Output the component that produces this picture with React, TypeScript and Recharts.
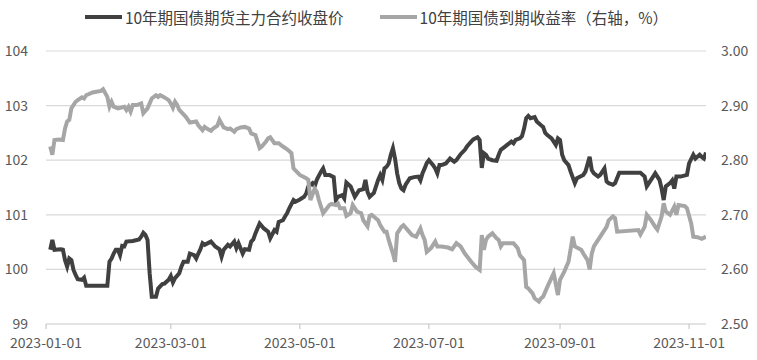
import { LineChart, Line, XAxis, YAxis, CartesianGrid, Legend } from 'recharts'

const YEAR = 2023
const PRICE_NAME = '10年期国债期货主力合约收盘价'
const YIELD_NAME = '10年期国债到期收益率（右轴，%）'
const LEGEND_ORDER = [PRICE_NAME, YIELD_NAME]

// 10y T-bond futures, main contract close (left axis)
const priceDates = [
  '01-03', '01-04', '01-05', '01-08', '01-09', '01-10', '01-11', '01-12', '01-13', '01-14', '01-15', '01-16', '01-18', '01-19', '01-20', '01-30', '01-31',
  '02-01', '02-02', '02-03', '02-04', '02-05', '02-06', '02-07', '02-08', '02-11', '02-14', '02-15', '02-16', '02-17', '02-18', '02-19', '02-20', '02-22', '02-23', '02-25', '02-26', '02-28',
  '03-01', '03-02', '03-03', '03-05', '03-06', '03-07', '03-09', '03-10', '03-12', '03-13', '03-14', '03-15', '03-16', '03-17', '03-19', '03-20', '03-22', '03-24', '03-25', '03-26', '03-28', '03-29', '03-31',
  '04-01', '04-02', '04-04', '04-05', '04-07', '04-08', '04-09', '04-10', '04-12', '04-14', '04-16', '04-17', '04-19', '04-20', '04-21', '04-23', '04-24', '04-25', '04-26', '04-28', '04-29',
  '05-01', '05-03', '05-04', '05-05', '05-07', '05-08', '05-09', '05-11', '05-12', '05-13', '05-15', '05-17', '05-18', '05-19', '05-21', '05-22', '05-23', '05-25', '05-27', '05-28', '05-29', '05-31',
  '06-01', '06-02', '06-03', '06-05', '06-07', '06-08', '06-09', '06-10', '06-11', '06-12', '06-13', '06-14', '06-15', '06-16', '06-17', '06-18', '06-19', '06-20', '06-22', '06-24', '06-26', '06-27', '06-28', '06-29', '06-30',
  '07-01', '07-03', '07-04', '07-05', '07-06', '07-07', '07-09', '07-11', '07-13', '07-14', '07-16', '07-18', '07-19', '07-21', '07-22', '07-24', '07-25', '07-26', '07-27', '07-28', '07-29', '07-31',
  '08-02', '08-03', '08-04', '08-06', '08-07', '08-09', '08-10', '08-11', '08-13', '08-14', '08-15', '08-16', '08-17', '08-18', '08-20', '08-21', '08-23', '08-24', '08-25', '08-26', '08-28', '08-30', '08-31',
  '09-01', '09-02', '09-03', '09-05', '09-06', '09-08', '09-09', '09-12', '09-13', '09-15', '09-16', '09-17', '09-19', '09-20', '09-22', '09-23', '09-24', '09-26', '09-27', '09-29',
  '10-09', '10-11', '10-12', '10-13', '10-15', '10-16', '10-18', '10-19', '10-20', '10-21', '10-23', '10-24', '10-25', '10-26', '10-28', '10-31',
  '11-01', '11-03', '11-04', '11-06', '11-07', '11-08', '11-09',
]
const priceValues = [
  100.36, 100.54, 100.36, 100.37, 100.36, 100.17, 100.05, 100.2, 100.17, 99.99, 99.9, 99.82, 99.81, 99.85, 99.7, 99.7, 100.14,
  100.2, 100.29, 100.36, 100.36, 100.26, 100.43, 100.42, 100.51, 100.52, 100.55, 100.6, 100.67, 100.63, 100.54, 99.93, 99.5, 99.5, 99.65, 99.73, 99.74, 99.81,
  99.88, 99.76, 99.84, 99.93, 100.05, 100.14, 100.14, 100.29, 100.26, 100.2, 100.29, 100.37, 100.48, 100.45, 100.49, 100.51, 100.42, 100.37, 100.23, 100.36, 100.45, 100.42, 100.51,
  100.39, 100.48, 100.29, 100.37, 100.36, 100.51, 100.55, 100.66, 100.84, 100.75, 100.69, 100.57, 100.72, 100.69, 100.87, 100.9, 100.97, 101.03, 101.12, 101.27, 101.24,
  101.28, 101.33, 101.39, 101.52, 101.58, 101.52, 101.64, 101.79, 101.85, 101.73, 101.73, 101.69, 101.27, 101.33, 101.36, 101.3, 101.59, 101.52, 101.33, 101.39, 101.45, 101.47,
  101.64, 101.42, 101.33, 101.4, 101.64, 101.73, 101.64, 101.85, 101.88, 101.94, 102.1, 102.22, 102.03, 101.76, 101.58, 101.48, 101.45, 101.55, 101.67, 101.69, 101.7, 101.63, 101.76, 101.85, 101.95,
  102.0, 101.91, 101.85, 101.76, 101.91, 101.91, 101.94, 102.03, 101.97, 102.0, 102.11, 102.19, 102.25, 102.34, 102.38, 102.42, 102.37, 101.86, 102.13, 102.1, 102.03, 102.0,
  101.99, 102.1, 102.19, 102.25, 102.28, 102.34, 102.31, 102.37, 102.4, 102.44, 102.58, 102.77, 102.81, 102.77, 102.79, 102.71, 102.64, 102.61, 102.5, 102.46, 102.4, 102.28, 102.4,
  102.37, 102.1, 102.0, 101.91, 101.79, 101.58, 101.67, 101.73, 101.79, 102.06, 101.82, 101.76, 101.7, 101.73, 101.85, 101.61, 101.58, 101.55, 101.58, 101.77,
  101.77, 101.7, 101.52, 101.58, 101.7, 101.76, 101.64, 101.48, 101.27, 101.52, 101.58, 101.63, 101.48, 101.7, 101.7, 101.73,
  101.94, 102.1, 102.03, 102.1, 102.06, 102.03, 102.14,
]

// 10y government bond yield, % (right axis)
const yieldDates = [
  '01-03', '01-04', '01-05', '01-07', '01-09', '01-10', '01-11', '01-12', '01-13', '01-15', '01-16', '01-18', '01-19', '01-20', '01-23', '01-27', '01-28', '01-30', '01-31',
  '02-01', '02-02', '02-04', '02-07', '02-08', '02-09', '02-10', '02-11', '02-13', '02-15', '02-16', '02-18', '02-20', '02-22', '02-23', '02-24', '02-26', '02-28',
  '03-01', '03-02', '03-03', '03-04', '03-05', '03-08', '03-10', '03-13', '03-14', '03-16', '03-17', '03-18', '03-20', '03-21', '03-23', '03-24', '03-26', '03-28', '03-29', '03-31',
  '04-01', '04-03', '04-05', '04-07', '04-08', '04-10', '04-12', '04-13', '04-15', '04-16', '04-17', '04-19', '04-21', '04-23', '04-25', '04-27', '04-28', '04-29',
  '05-01', '05-04', '05-05', '05-06', '05-08', '05-09', '05-10', '05-11', '05-12', '05-13', '05-15', '05-16', '05-18', '05-19', '05-20', '05-22', '05-23', '05-25', '05-26', '05-28', '05-30', '05-31',
  '06-02', '06-03', '06-04', '06-07', '06-08', '06-10', '06-11', '06-12', '06-14', '06-15', '06-16', '06-18', '06-19', '06-21', '06-23', '06-25', '06-27', '06-28', '06-29', '06-30',
  '07-02', '07-04', '07-05', '07-07', '07-10', '07-12', '07-14', '07-16', '07-18', '07-21', '07-23', '07-25', '07-26', '07-27', '07-28', '07-29', '07-31',
  '08-02', '08-03', '08-04', '08-05', '08-10', '08-12', '08-13', '08-15', '08-16', '08-17', '08-19', '08-20', '08-22', '08-23', '08-24', '08-26', '08-29', '08-31',
  '09-01', '09-03', '09-05', '09-07', '09-08', '09-11', '09-12', '09-14', '09-15', '09-16', '09-17', '09-19', '09-20', '09-21', '09-23', '09-24', '09-26', '09-27', '09-28',
  '10-08', '10-09', '10-11', '10-12', '10-14', '10-16', '10-17', '10-19', '10-20', '10-21', '10-23', '10-25', '10-26', '10-27', '10-30', '10-31',
  '11-02', '11-03', '11-05', '11-07', '11-09',
]
const yieldValues = [
  2.825, 2.81, 2.837, 2.838, 2.837, 2.858, 2.871, 2.874, 2.895, 2.907, 2.91, 2.915, 2.913, 2.919, 2.924, 2.927, 2.93, 2.916, 2.898,
  2.907, 2.898, 2.895, 2.898, 2.892, 2.898, 2.889, 2.901, 2.901, 2.904, 2.886, 2.895, 2.913, 2.919, 2.916, 2.919, 2.915, 2.91,
  2.904, 2.896, 2.907, 2.901, 2.892, 2.88, 2.869, 2.871, 2.864, 2.855, 2.861, 2.858, 2.854, 2.858, 2.863, 2.874, 2.86, 2.857, 2.858, 2.852,
  2.857, 2.86, 2.861, 2.858, 2.849, 2.846, 2.822, 2.825, 2.834, 2.84, 2.842, 2.831, 2.831, 2.825, 2.82, 2.813, 2.785, 2.781,
  2.773, 2.767, 2.764, 2.727, 2.748, 2.742, 2.727, 2.715, 2.703, 2.708, 2.718, 2.72, 2.718, 2.721, 2.712, 2.712, 2.698, 2.703, 2.718, 2.706, 2.703, 2.69,
  2.679, 2.698, 2.7, 2.69, 2.681, 2.669, 2.669, 2.654, 2.629, 2.614, 2.666, 2.678, 2.681, 2.672, 2.663, 2.66, 2.675, 2.663, 2.654, 2.632,
  2.639, 2.651, 2.642, 2.642, 2.64, 2.637, 2.648, 2.642, 2.629, 2.614, 2.605, 2.599, 2.663, 2.636, 2.654, 2.66, 2.666,
  2.657, 2.654, 2.642, 2.648, 2.648, 2.639, 2.626, 2.617, 2.568, 2.565, 2.556, 2.547, 2.541, 2.547, 2.55, 2.568, 2.593, 2.553,
  2.581, 2.596, 2.614, 2.66, 2.642, 2.636, 2.629, 2.617, 2.6, 2.629, 2.642, 2.654, 2.66, 2.666, 2.678, 2.69, 2.697, 2.694, 2.669,
  2.672, 2.664, 2.678, 2.7, 2.69, 2.678, 2.673, 2.697, 2.721, 2.706, 2.7, 2.715, 2.7, 2.718, 2.716, 2.712,
  2.684, 2.66, 2.659, 2.656, 2.66,
]

const xTickDates = ['01-01', '03-01', '05-01', '07-01', '09-01', '11-01']
const xEndDate = '11-09'
const leftTicks = [99, 100, 101, 102, 103, 104]
const rightTicks = [2.5, 2.6, 2.7, 2.8, 2.9, 3.0]

const DAY_MS = 86400000
const yearStart = Date.UTC(YEAR, 0, 1)

function dayOf(md: string) {
  const [m, d] = md.split('-').map(Number)
  return (Date.UTC(YEAR, m - 1, d) - yearStart) / DAY_MS
}

function formatDay(day: number) {
  return new Date(yearStart + day * DAY_MS).toISOString().slice(0, 10)
}

const priceData = priceDates.map((d, i) => ({ day: dayOf(d), price: priceValues[i] }))
const yieldData = yieldDates.map((d, i) => ({ day: dayOf(d), yield: yieldValues[i] }))
const xTicks = xTickDates.map(dayOf)

const TICK_STYLE = { fill: '#595959', fontSize: 14 }

function renderLegend(props: { payload?: { value: string; color?: string }[] }) {
  const items = [...(props.payload ?? [])].sort(
    (a, b) => LEGEND_ORDER.indexOf(a.value) - LEGEND_ORDER.indexOf(b.value)
  )
  return (
    <div style={{ height: 51, display: 'flex', justifyContent: 'center', paddingRight: 4 }}>
      {items.map((item, i) => (
        <div
          key={item.value}
          style={{ display: 'flex', alignItems: 'center', height: 34, marginLeft: i === 0 ? 0 : 36 }}
        >
          <span style={{ display: 'inline-block', width: 37, height: 4.5, background: item.color, marginRight: 3 }} />
          <span style={{ fontSize: 15.5, color: '#404040', whiteSpace: 'nowrap' }}>{item.value}</span>
        </div>
      ))}
    </div>
  )
}

export default function App() {
  return (
    <div style={{ position: 'absolute', left: 0, top: 0, width: 757, height: 360, fontFamily: '"Noto Sans CJK SC", "Noto Sans", sans-serif', background: '#fff' }}>
      <LineChart width={757} height={360} margin={{ top: 0, right: 0, bottom: 0, left: 0 }}>
        <CartesianGrid yAxisId="left" vertical={false} stroke="#d9d9d9" strokeWidth={1.2} />
        <XAxis
          dataKey="day"
          type="number"
          domain={[0, dayOf(xEndDate)]}
          ticks={xTicks}
          interval={0}
          tickFormatter={formatDay}
          height={36}
          tickSize={5}
          tickMargin={9}
          axisLine={{ stroke: '#d9d9d9', strokeWidth: 1.2 }}
          tickLine={{ stroke: '#bfbfbf' }}
          tick={TICK_STYLE}
          allowDataOverflow
        />
        <YAxis
          yAxisId="left"
          domain={[99, 104]}
          ticks={leftTicks}
          interval={0}
          width={46}
          tickSize={0}
          tickMargin={18}
          axisLine={false}
          tickLine={false}
          tick={TICK_STYLE}
        />
        <YAxis
          yAxisId="right"
          orientation="right"
          domain={[2.5, 3.0]}
          ticks={rightTicks}
          interval={0}
          tickFormatter={(v: number) => v.toFixed(2)}
          width={51}
          tickSize={0}
          tickMargin={15}
          axisLine={false}
          tickLine={false}
          tick={TICK_STYLE}
        />
        <Legend verticalAlign="top" align="center" content={renderLegend as never} />
        <Line
          data={priceData}
          yAxisId="left"
          dataKey="price"
          name={PRICE_NAME}
          type="linear"
          stroke="#404040"
          strokeWidth={4}
          dot={false}
          activeDot={false}
          isAnimationActive={false}
        />
        <Line
          data={yieldData}
          yAxisId="right"
          dataKey="yield"
          name={YIELD_NAME}
          type="linear"
          stroke="#a6a6a6"
          strokeWidth={4}
          dot={false}
          activeDot={false}
          isAnimationActive={false}
        />
      </LineChart>
    </div>
  )
}
